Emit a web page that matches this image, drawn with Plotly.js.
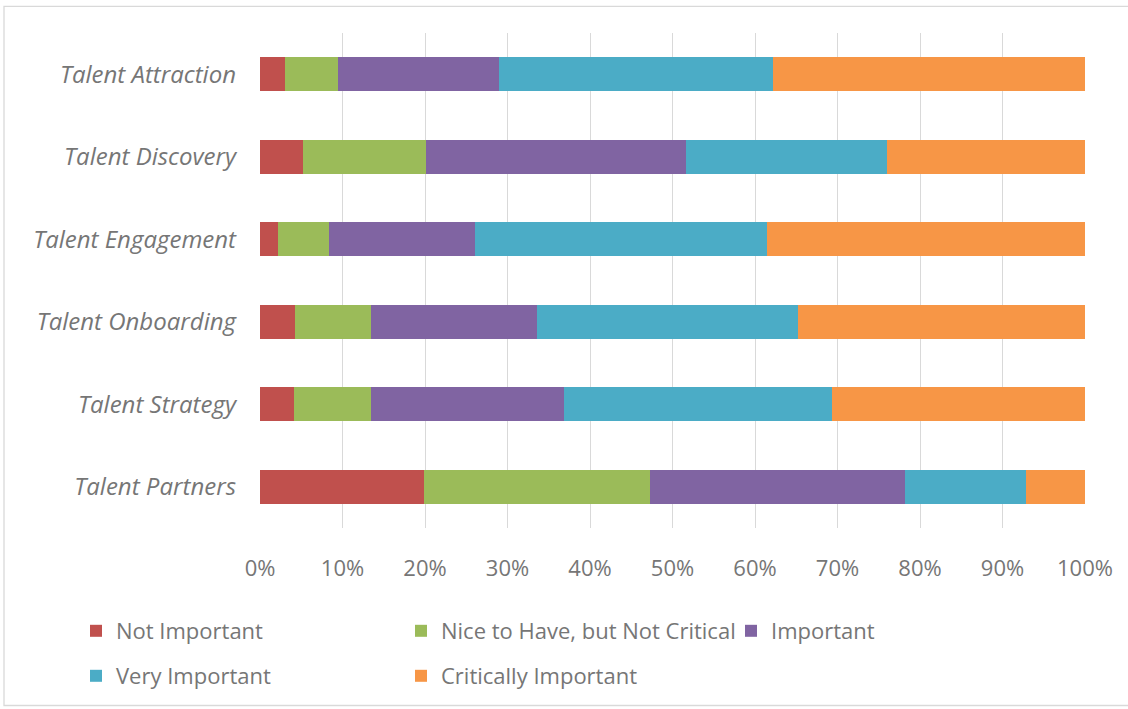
<!DOCTYPE html>
<html>
<head>
<meta charset="utf-8">
<script src="https://cdn.plot.ly/plotly-3.0.1.min.js"></script>
<style>html,body{margin:0;padding:0;background:#fff;}#chart{width:1128px;height:709px;}</style>
</head>
<body>
<div id="chart"></div>
<script>
const categories = ["Talent Attraction","Talent Discovery","Talent Engagement","Talent Onboarding","Talent Strategy","Talent Partners"];
const seriesNames = ["Not Important","Nice to Have, but Not Critical","Important","Very Important","Critically Important"];
const notImportant      = [3.0, 5.2, 2.2, 4.2, 4.1, 19.9];
const niceToHave        = [6.5, 14.9, 6.2, 9.2, 9.4, 27.4];
const important         = [19.5, 31.5, 17.6, 20.1, 23.4, 30.9];
const veryImportant     = [33.2, 24.4, 35.4, 31.6, 32.4, 14.6];
const criticallyImportant = [37.8, 24.0, 38.6, 34.8, 30.7, 7.2];
const colors = ["#C0504D","#9BBB59","#8064A2","#4BACC6","#F79646"];

const seriesValues = [notImportant, niceToHave, important, veryImportant, criticallyImportant];
const legendFor = ["legend","legend2","legend3","legend4","legend5"];

const traces = seriesValues.map((vals, i) => {
  const tot = vals.map((v, j) => seriesValues.reduce((s, a) => s + a[j], 0));
  return {
    type: "bar",
    orientation: "h",
    name: seriesNames[i],
    y: categories,
    x: vals.map((v, j) => v / tot[j]),
    marker: {color: colors[i]},
    legend: legendFor[i],
    hoverinfo: "name+x"
  };
});

const fam = "'Open Sans', sans-serif";
const txtColor = "#767676";
const legFont = {family: fam, size: 22, color: txtColor};

function legendAt(x, y) {
  return {
    orientation: "h",
    xref: "container", yref: "container",
    x: x / 1128, y: 1 - y / 709,
    xanchor: "left", yanchor: "middle",
    font: legFont,
    bgcolor: "rgba(0,0,0,0)",
    traceorder: "normal"
  };
}

const layout = {
  width: 1128, height: 709,
  margin: {l: 260, r: 43, t: 33, b: 181},
  paper_bgcolor: "#ffffff",
  plot_bgcolor: "#ffffff",
  barmode: "stack",
  bargap: 0.59,
  font: {family: fam, size: 20, color: txtColor},
  showlegend: true,
  xaxis: {
    range: [0, 1],
    dtick: 0.1,
    tickformat: ".0%",
    showgrid: true,
    gridcolor: "#d9d9d9",
    gridwidth: 1.3,
    zeroline: false,
    showline: false,
    ticks: "",
    ticklabelstandoff: 25,
    tickfont: {family: fam, size: 22, color: txtColor},
    fixedrange: true
  },
  yaxis: {
    categoryorder: "array",
    categoryarray: categories.slice().reverse(),
    showgrid: false,
    zeroline: false,
    showline: false,
    ticks: "",
    ticklabelstandoff: 23,
    tickfont: {family: fam, size: 24, color: txtColor, style: "italic"},
    fixedrange: true
  },
  legend: legendAt(76, 631),
  legend2: legendAt(401, 631),
  legend3: legendAt(731, 631),
  legend4: legendAt(76, 676),
  legend5: legendAt(401, 676),
  shapes: [{
    type: "rect", xref: "paper", yref: "paper",
    x0: (4 - 260) / 825, x1: (1132 - 260) / 825,
    y0: (528.3 - 706) / 495.6, y1: 1 + (32.7 - 6) / 495.6,
    line: {color: "#d9d9d9", width: 1.3},
    fillcolor: "rgba(0,0,0,0)",
    layer: "below"
  }]
};

Plotly.newPlot("chart", traces, layout, {displayModeBar: false});
</script>
</body>
</html>
